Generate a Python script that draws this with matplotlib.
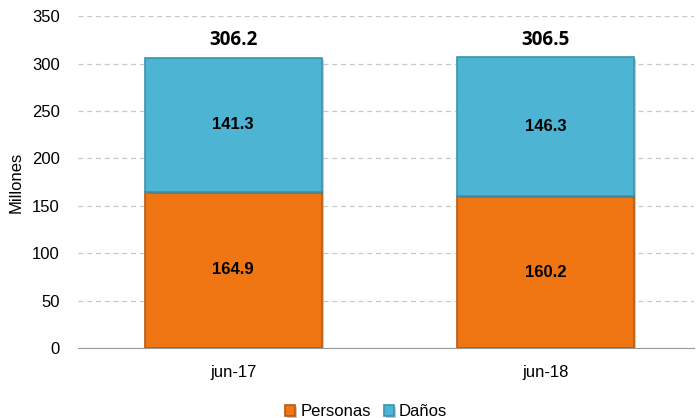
import matplotlib
matplotlib.use("Agg")
import matplotlib.pyplot as plt
import matplotlib.patheffects as pe
import numpy as np

categories = ["jun-17", "jun-18"]
personas = [164.9, 160.2]
danos = [141.3, 146.3]
totals = [306.2, 306.5]

plt.rcParams['font.family'] = ['Liberation Sans', 'DejaVu Sans']

fig = plt.figure(figsize=(6.96, 4.18), dpi=100)
ax = fig.add_axes([0.112, 0.1675, 0.885, 0.794])

x = np.arange(len(categories))
w = 0.566
shadow = [pe.SimplePatchShadow(offset=(1.5, -1.5), alpha=0.25), pe.Normal()]
ax.bar(x, personas, w, color='#F07613', edgecolor='#B8590E', linewidth=1.2,
       label='Personas', zorder=3, path_effects=shadow)
ax.bar(x, danos, w, bottom=personas, color='#4DB5D3', edgecolor='#3A93AD',
       linewidth=1.2, label='Daños', zorder=3, path_effects=shadow)

for i in range(len(categories)):
    ax.text(x[i], personas[i] / 2, f"{personas[i]:.1f}", ha='center', va='center',
            fontsize=12, fontweight='bold', zorder=4)
    ax.text(x[i], personas[i] + danos[i] / 2, f"{danos[i]:.1f}", ha='center', va='center',
            fontsize=12, fontweight='bold', zorder=4)
    ax.text(x[i], totals[i] + 8, f"{totals[i]:.1f}", ha='center', va='bottom',
            fontsize=13.5, fontweight='bold', family=['Open Sans', 'DejaVu Sans'], zorder=4)

ax.set_ylim(0, 350)
ax.set_xlim(-0.497, 1.475)
ax.set_yticks(np.arange(0, 351, 50))
ax.set_xticks(x)
ax.set_xticklabels(categories)
ax.yaxis.grid(True, linestyle=(0, (4, 3)), color='#C8C8C8', linewidth=0.9, zorder=0)
ax.set_axisbelow(True)
for s in ['top', 'right', 'left']:
    ax.spines[s].set_visible(False)
ax.spines['bottom'].set_color('#9A9A9A')
ax.tick_params(axis='both', labelsize=12, length=0)
ax.tick_params(axis='y', pad=13)
ax.tick_params(axis='x', pad=12)
ax.set_ylabel('Millones', fontsize=12, labelpad=6)

ax.legend(loc='upper center', bbox_to_anchor=(0.468, -0.125), ncol=2, frameon=False,
          fontsize=12, handlelength=0.6, handleheight=0.6, handletextpad=0.3,
          columnspacing=0.8)

fig.savefig("out.png", dpi=100)
